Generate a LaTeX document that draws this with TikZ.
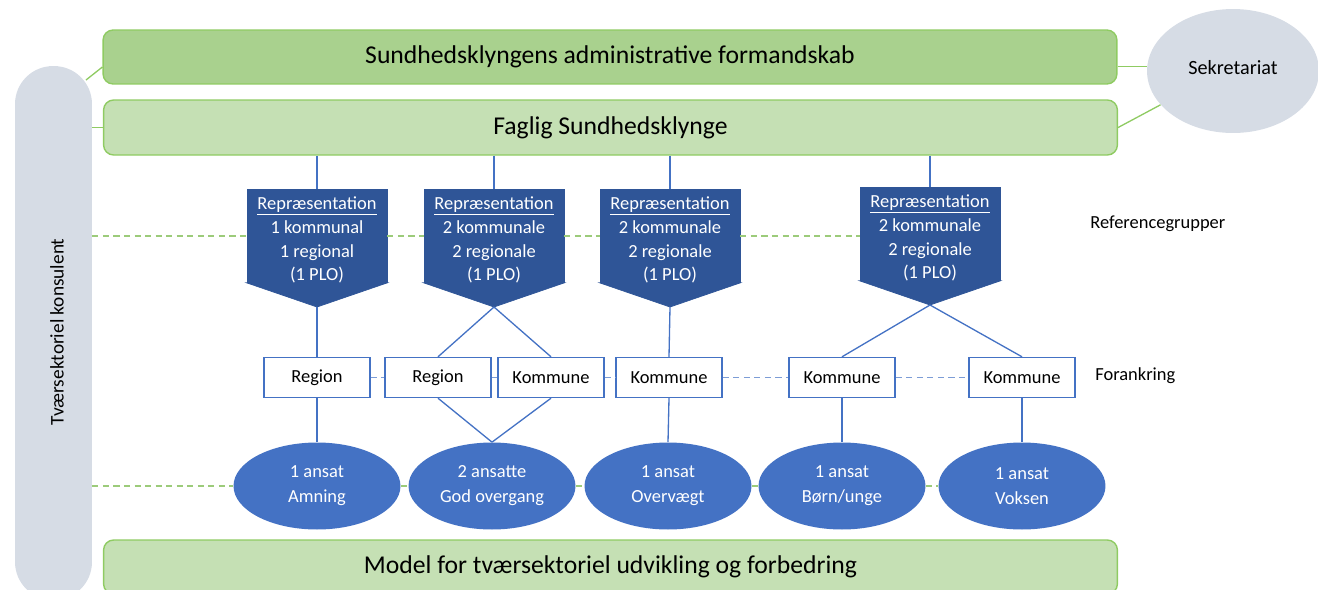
\documentclass[tikz,border=0pt]{standalone}
\usepackage{fontspec}
\setmainfont{Carlito}
\usetikzlibrary{shapes.geometric,calc}

\definecolor{admgreen}{HTML}{A9D18E}
\definecolor{faggreen}{HTML}{C5E0B4}
\definecolor{greenedge}{HTML}{8FCB62}
\definecolor{dashgreen}{HTML}{9CCB7A}
\definecolor{pillgray}{HTML}{D6DCE5}
\definecolor{repblue}{HTML}{2F5597}
\definecolor{lineblue}{HTML}{4472C4}

\begin{document}
\begin{tikzpicture}[x=0.02cm,y=-0.02cm,inner sep=1mm,
  bar/.style={rectangle,rounded corners=0.2cm,draw=greenedge,line width=0.8pt,minimum width=20.28cm,minimum height=1.08cm,font=\fontsize{14.6}{17}\selectfont},
  rep/.style={rectangle,fill=repblue,draw=repblue,line width=0.4pt,minimum width=2.8cm,minimum height=1.86cm},
  reptext/.style={inner sep=0pt,text=white,align=center,font=\fontsize{10.5}{13.6}\selectfont},
  anchorbox/.style={rectangle,draw=lineblue,line width=0.8pt,fill=white,minimum width=2.12cm,minimum height=0.8cm,font=\fontsize{10.5}{12}\selectfont},
  staff/.style={ellipse,fill=lineblue,minimum width=3.34cm,minimum height=1.74cm,inner sep=0pt,text=white,align=center,font=\fontsize{10.5}{14.2}\selectfont},
  link/.style={draw=lineblue,line width=0.75pt},
  gline/.style={draw=greenedge,line width=0.75pt},
  gdash/.style={draw=dashgreen,line width=1pt,dash pattern=on 3.5pt off 2.5pt},
  bdash/.style={draw=lineblue!70,line width=1pt,dash pattern=on 3.5pt off 2.5pt}]

\useasboundingbox (0,0) rectangle (1318,589);
\clip (0,0) rectangle (1318,589);

\node[rectangle,rounded corners=0.76cm,fill=pillgray,minimum width=1.54cm,minimum height=10.68cm] (tk) at (53.5,333) {};
\node[rotate=90,font=\fontsize{11}{12}\selectfont] (tktxt) at (57,332) {Tværsektoriel konsulent};

\node[bar,fill=admgreen] (adm) at (610,57) {Sundhedsklyngens administrative formandskab};
\node[bar,fill=faggreen,minimum height=1.1cm] (fag) at (610.5,127.5) {Faglig Sundhedsklynge};
\node[bar,fill=faggreen] (model) at (610.5,567) {Model for tværsektoriel udvikling og forbedring};

\node[ellipse,fill=pillgray,minimum width=3.44cm,minimum height=2.48cm,font=\fontsize{11.5}{13}\selectfont] (sek) at (1233,71) {\raisebox{4pt}{Sekretariat}};

\coordinate (tkadm) at (86,80);
\draw[gline] (tkadm) -- ($(adm.west)+(0,10)$);
\draw[gline] (tk.east |- fag.west) -- (fag.west);
\draw[gline] (sek.177 -| adm.east) -- (sek.177);
\draw[gline] (fag.east) -- (sek.205);

\node[rep] (r1) at (317,236) {};
\node[rep] (r2) at (494,236) {};
\node[rep] (r3) at (670,236) {};
\node[rep] (r4) at (930,234) {};

\coordinate (t1) at (317,307);
\coordinate (t2) at (494,307);
\coordinate (t3) at (670,307);
\coordinate (t4) at (930,305);
\filldraw[repblue,line width=0.4pt] (r1.south west) -- (r1.south east) -- (t1) -- cycle;
\filldraw[repblue,line width=0.4pt] (r2.south west) -- (r2.south east) -- (t2) -- cycle;
\filldraw[repblue,line width=0.4pt] (r3.south west) -- (r3.south east) -- (t3) -- cycle;
\filldraw[repblue,line width=0.4pt] (r4.south west) -- (r4.south east) -- (t4) -- cycle;

\node[reptext] (r1t) at (317,240) {\underline{Repræsentation}\\1 kommunal\\1 regional\\(1 PLO)};
\node[reptext] (r2t) at (494,240) {\underline{Repræsentation}\\2 kommunale\\2 regionale\\(1 PLO)};
\node[reptext] (r3t) at (670,240) {\underline{Repræsentation}\\2 kommunale\\2 regionale\\(1 PLO)};
\node[reptext] (r4t) at (930,238) {\underline{Repræsentation}\\2 kommunale\\2 regionale\\(1 PLO)};

\draw[link] (fag.south -| r1.north) -- (r1.north);
\draw[link] (fag.south -| r2.north) -- (r2.north);
\draw[link] (fag.south -| t3) -- (r3.north -| t3);
\draw[link] (fag.south -| r4.north) -- (r4.north);

\draw[gdash] (tk.east |- r1.west) -- (r1.west);
\draw[gdash] (r1.east) -- (r2.west);
\draw[gdash] (r2.east) -- (r3.west);
\draw[gdash] (r3.east) -- (r3.east -| r4.west);

\node[anchorbox] (a1) at (317,377.5) {Region};
\node[anchorbox] (a2) at (438,377.5) {Region};
\node[anchorbox] (a3) at (551,377.5) {Kommune};
\node[anchorbox] (a4) at (669,377.5) {Kommune};
\node[anchorbox] (a5) at (842,377.5) {Kommune};
\node[anchorbox] (a6) at (1022,377.5) {Kommune};

\draw[bdash] (a1.east) -- (a2.west);
\draw[bdash] (a2.east) -- (a3.west);
\draw[bdash] (a3.east) -- (a4.west);
\draw[bdash] (a4.east) -- (a5.west);
\draw[bdash] (a5.east) -- (a6.west);

\node[staff] (e1) at (317,486) {1 ansat\\Amning};
\node[staff] (e2) at (492,486) {2 ansatte\\God overgang};
\node[staff] (e3) at (668,486) {1 ansat\\Overvægt};
\node[staff] (e4) at (842,486) {1 ansat\\Børn/unge};
\node[staff] (e5) at (1022,486) {1 ansat\\Voksen};

\draw[gdash] (tk.east |- e1.west) -- (e1.west);
\draw[gdash] (e1.east) -- (e2.west);
\draw[gdash] (e2.east) -- (e3.west);
\draw[gdash] (e3.east) -- (e4.west);
\draw[gdash] (e4.east) -- (e5.west);

\draw[link] (t1) -- (a1.north);
\draw[link] (t2) -- (a2.north);
\draw[link] (t2) -- (a3.north);
\draw[link] (t3) -- (a4.north);
\draw[link] (t4) -- (a5.north);
\draw[link] (t4) -- (a6.north);

\draw[link] (a1.south) -- (e1.north);
\draw[link] (a2.south) -- (e2.north);
\draw[link] (a3.south) -- (e2.north);
\draw[link] (a4.south) -- (e3.north);
\draw[link] (a5.south) -- (e4.north);
\draw[link] (a6.south) -- (e5.north);

\node[anchor=west,inner sep=0pt,font=\fontsize{10.5}{12}\selectfont] (refg) at (1090,224) {Referencegrupper};
\node[anchor=west,inner sep=0pt,font=\fontsize{10.5}{12}\selectfont] (fora) at (1095,376) {Forankring};

\end{tikzpicture}
\end{document}
